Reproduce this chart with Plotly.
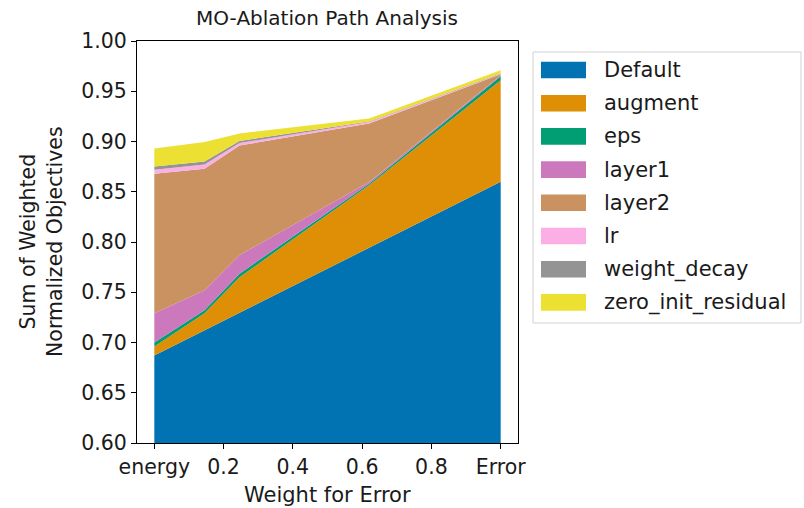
import plotly.graph_objects as go

# Weight for Error at each sampled point along the ablation path
weights = [0.0, 0.145, 0.246, 0.62, 1.0]

# Contribution of each component to the sum of weighted normalized objectives
components = ["Default", "augment", "eps", "layer1", "layer2", "lr",
              "weight_decay", "zero_init_residual"]
default_vals = [0.687, 0.712, 0.7296, 0.794, 0.860]
augment_vals = [0.009, 0.017, 0.0354, 0.0624, 0.101]
eps_vals = [0.004, 0.003, 0.0035, 0.0016, 0.004]
layer1_vals = [0.029, 0.020, 0.0185, 0.0017, 0.001]
layer2_vals = [0.139, 0.121, 0.109, 0.0583, 0.001]
lr_vals = [0.004, 0.004, 0.0025, 0.0015, 0.0005]
weight_decay_vals = [0.003, 0.003, 0.002, 0.0005, 0.0005]
zero_init_residual_vals = [0.018, 0.0195, 0.0075, 0.0028, 0.003]

x_tick_vals = [0.0, 0.2, 0.4, 0.6, 0.8, 1.0]
x_tick_text = ["energy", "0.2", "0.4", "0.6", "0.8", "Error"]

series = [default_vals, augment_vals, eps_vals, layer1_vals, layer2_vals,
          lr_vals, weight_decay_vals, zero_init_residual_vals]
colors = ["#0173b2", "#de8f05", "#029e73", "#cc78bc", "#ca9161",
          "#fbafe4", "#949494", "#ece133"]

FONT = "DejaVu Sans"
TEXT = "#1a1a1a"
W, H = 804, 508
L, R, T, B = 137, 518, 41, 443  # plot area in pixels

fig = go.Figure()
for name, vals, col in zip(components, series, colors):
    fig.add_trace(go.Scatter(
        x=weights, y=vals, name=name, mode="lines",
        stackgroup="one", line=dict(width=0, color=col),
        fillcolor=col, showlegend=False, hoverinfo="x+y+name",
    ))


def px_x(p):
    return (p - L) / (R - L)


def px_y(p):
    return (B - p) / (B - T)


# Legend drawn as a framed box with colour swatches
shapes = [dict(type="rect", xref="paper", yref="paper",
               x0=px_x(533), x1=px_x(801), y0=px_y(52), y1=px_y(323),
               line=dict(color="#d0d0d0", width=1), fillcolor="white",
               layer="above")]
annotations = []
for i, (name, col) in enumerate(zip(components, colors)):
    cy = 70 + i * 33.2
    shapes.append(dict(type="rect", xref="paper", yref="paper",
                       x0=px_x(541), x1=px_x(586),
                       y0=px_y(cy + 8.3), y1=px_y(cy - 8.3),
                       line=dict(width=0), fillcolor=col, layer="above"))
    annotations.append(dict(xref="paper", yref="paper", x=px_x(602),
                            y=px_y(cy), text=name, showarrow=False,
                            xanchor="left", yanchor="middle",
                            font=dict(family=FONT, size=21, color=TEXT)))

# Axis titles
annotations.append(dict(xref="paper", yref="paper", x=px_x(41), y=0.5,
                        text="Sum of Weighted<br>Normalized Objectives",
                        textangle=-90, showarrow=False,
                        xanchor="center", yanchor="middle",
                        font=dict(family=FONT, size=20.5, color=TEXT)))
annotations.append(dict(xref="paper", yref="paper", x=px_x(327),
                        y=px_y(495), text="Weight for Error",
                        showarrow=False, xanchor="center", yanchor="middle",
                        font=dict(family=FONT, size=21, color=TEXT)))

fig.update_layout(
    width=W, height=H,
    margin=dict(l=L, r=W - R, t=T, b=H - B, pad=0, autoexpand=False),
    paper_bgcolor="white", plot_bgcolor="white",
    font=dict(family=FONT, size=20, color=TEXT),
    title=dict(text="MO-Ablation Path Analysis", x=327 / W,
               xanchor="center", y=1 - 18 / H, yanchor="middle",
               font=dict(family=FONT, size=20, color=TEXT)),
    shapes=shapes, annotations=annotations,
)
fig.update_xaxes(
    range=[-0.05, 1.05], tickvals=x_tick_vals, ticktext=x_tick_text,
    showgrid=False, zeroline=False, showline=True, mirror=True,
    linecolor="black", linewidth=1, ticks="outside", ticklen=5,
    tickcolor="black", tickfont=dict(family=FONT, size=20.5, color=TEXT),
    automargin=False,
)
fig.update_yaxes(
    range=[0.6, 1.0], dtick=0.05, tickformat=".2f",
    showgrid=False, zeroline=False, showline=True, mirror=True,
    linecolor="black", linewidth=1, ticks="outside", ticklen=5,
    tickcolor="black", tickfont=dict(family=FONT, size=20.5, color=TEXT),
    automargin=False,
)

fig.write_html("out.html")
